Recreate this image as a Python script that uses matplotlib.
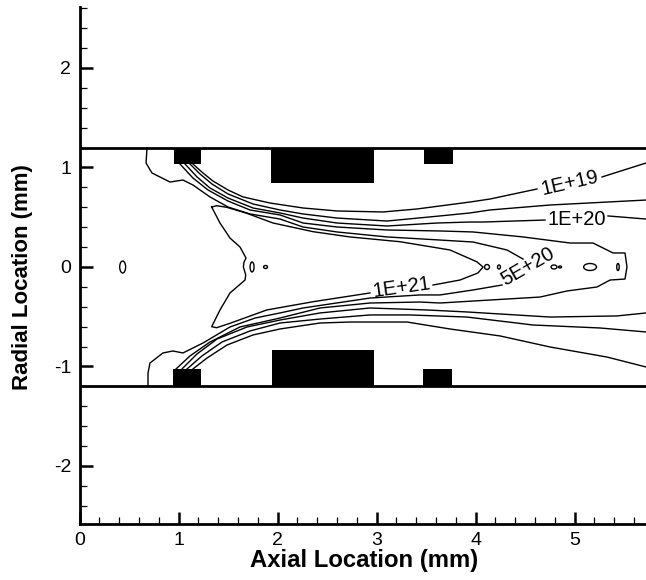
import numpy as np
import matplotlib
matplotlib.use('Agg')
import matplotlib.pyplot as plt
from matplotlib.patches import Ellipse, Rectangle
from matplotlib.ticker import MultipleLocator

nan = np.nan

# contour lines, nan = gap where a label sits
x_1e19 = [1.146, 1.247, 1.348, 1.5, 1.652, 1.924, 2.258, 2.601, 3.066, 3.409, 3.944, 4.146, 4.621, nan, 5.278, 5.722]
y_1e19 = [1.035, 0.945, 0.864, 0.774, 0.704, 0.643, 0.593, 0.563, 0.553, 0.583, 0.653, 0.683, 0.784, nan, 0.905, 1.045]

x_upper2 = [1.116, 1.217, 1.338, 1.5, 1.753, 2.025, 2.258, 2.601, 3.106, 3.641, 3.944, 4.146, 4.753, 5.722]
y_upper2 = [1.035, 0.935, 0.834, 0.734, 0.633, 0.573, 0.533, 0.492, 0.462, 0.513, 0.543, 0.573, 0.623, 0.673]

x_1e20 = [1.066, 1.187, 1.318, 1.5, 1.753, 2.025, 2.258, 2.601, 3.106, 3.611, 3.944, 4.076, 4.702, nan, 5.338, 5.722]
y_1e20 = [1.035, 0.905, 0.794, 0.693, 0.593, 0.543, 0.492, 0.442, 0.412, 0.442, 0.452, 0.452, 0.472, nan, 0.513, 0.482]

x_blob = [1.015, 1.146, 1.298, 1.5, 1.722, 2.025, 2.258, 2.601, 3.106, 3.641, 3.975, 4.480, 4.955, 5.187, 5.389,
          5.510, 5.530, 5.510, 5.359, 5.227, 4.924, 4.652, 4.146, 3.641, 3.439, 2.934, 2.429, 2.025, 1.621,
          1.318, 1.116, 0.975]
y_blob = [1.035, 0.894, 0.774, 0.663, 0.573, 0.523, 0.442, 0.402, 0.372, 0.362, 0.352, 0.302, 0.241, 0.241, 0.141,
          0.141, 0.0, -0.121, -0.131, -0.201, -0.241, -0.302, -0.332, -0.362, -0.352, -0.362, -0.412, -0.513,
          -0.603, -0.754, -0.894, -1.025]

x_5e20 = [0.682, 0.672, 0.732, 0.914, 1.045, 1.146, 1.318, 1.5, 1.722, 2.025, 2.258, 2.601, 3.106, 3.641, 3.975,
          4.318, 4.480, nan, 4.268, 3.975, 3.641, 3.439, 2.934, 2.258, 2.025, 1.773, 1.520, 1.247, 1.045,
          0.944, 0.843, 0.712, 0.692, 0.692]
y_5e20 = [1.196, 1.045, 0.945, 0.854, 0.874, 0.824, 0.704, 0.603, 0.533, 0.482, 0.402, 0.352, 0.302, 0.271, 0.251,
          0.171, 0.080, nan, -0.181, -0.231, -0.281, -0.281, -0.312, -0.412, -0.462, -0.513, -0.603, -0.764,
          -0.864, -0.844, -0.864, -0.965, -1.065, -1.196]

x_1e21 = [1.335, 1.386, 1.487, 1.689, 1.955, 2.359, 2.732, 3.237, 3.742, 4.012, 4.076, 4.025, 3.843, 3.571, nan,
          2.934, 2.359, 1.891, 1.520, 1.386, 1.335, 1.419, 1.520, 1.672, 1.679, 1.655, 1.662, 1.682, 1.621,
          1.520, 1.419, 1.335]
y_1e21 = [0.603, 0.616, 0.600, 0.540, 0.442, 0.355, 0.302, 0.254, 0.171, 0.053, 0.0, -0.060, -0.131, -0.181, nan,
          -0.261, -0.349, -0.432, -0.566, -0.610, -0.600, -0.432, -0.261, -0.131, -0.080, 0.0, 0.050, 0.090,
          0.201, 0.291, 0.442, 0.603]

x_lower_d = [1.035, 1.187, 1.389, 1.692, 2.025, 2.429, 2.934, 3.510, 3.914, 4.753, 5.429, 5.722]
y_lower_d = [-1.025, -0.874, -0.724, -0.603, -0.533, -0.462, -0.412, -0.432, -0.452, -0.503, -0.492, -0.462]

x_lower_e = [1.086, 1.237, 1.439, 1.722, 2.025, 2.429, 2.934, 3.338, 3.914, 4.581, 5.258, 5.722]
y_lower_e = [-1.025, -0.894, -0.754, -0.643, -0.563, -0.523, -0.482, -0.482, -0.503, -0.583, -0.613, -0.653]

x_lower_f = [1.146, 1.288, 1.490, 1.753, 2.025, 2.429, 2.732, 3.308, 3.742, 4.248, 4.753, 5.328, 5.722]
y_lower_f = [-1.025, -0.915, -0.784, -0.683, -0.623, -0.563, -0.553, -0.553, -0.623, -0.693, -0.804, -0.905, -1.005]

contours = [(x_1e19, y_1e19), (x_upper2, y_upper2), (x_1e20, y_1e20), (x_blob, y_blob),
            (x_5e20, y_5e20), (x_1e21, y_1e21), (x_lower_d, y_lower_d), (x_lower_e, y_lower_e),
            (x_lower_f, y_lower_f)]

# small closed contours on the axis
island_x = [0.436, 1.743, 1.879, 4.116, 4.237, 4.793, 4.854, 5.157, 5.439]
island_w = [0.06, 0.04, 0.04, 0.05, 0.03, 0.06, 0.03, 0.13, 0.025]
island_h = [0.12, 0.10, 0.03, 0.05, 0.04, 0.04, 0.02, 0.07, 0.07]

# solid blocks along the walls
block_x0 = [0.95, 1.93, 3.48, 0.94, 1.94, 3.47]
block_x1 = [1.23, 2.97, 3.77, 1.23, 2.97, 3.76]
block_y0 = [1.04, 0.84, 1.04, -1.03, -0.83, -1.03]
block_y1 = [1.2, 1.2, 1.2, -1.2, -1.2, -1.2]

wall_y = [1.2, -1.2]

labels = ['1E+19', '1E+20', '5E+20', '1E+21']
label_x = [4.95, 5.02, 4.53, 3.25]
label_y = [0.84, 0.48, 0.0, -0.21]
label_rot = [13, 0, 30, 8]

plt.rcParams['font.family'] = ['Liberation Sans', 'DejaVu Sans']
plt.rcParams['axes.unicode_minus'] = False

fig = plt.figure(figsize=(6.46, 5.80), dpi=100)
ax = fig.add_axes([79.5 / 646, 56 / 580, 566.5 / 646, 517 / 580])

for cx, cy in contours:
    ax.plot(cx, cy, color='black', lw=1.0, solid_joinstyle='round')

for x, w, h in zip(island_x, island_w, island_h):
    ax.add_patch(Ellipse((x, 0), w, h, fill=False, edgecolor='black', lw=1.0))

for x0, x1, y0, y1 in zip(block_x0, block_x1, block_y0, block_y1):
    ax.add_patch(Rectangle((x0, y0), x1 - x0, y1 - y0, facecolor='black', edgecolor='none', zorder=3))

for y in wall_y:
    ax.axhline(y, color='black', lw=2.0, zorder=3)

for t, x, y, r in zip(labels, label_x, label_y, label_rot):
    ax.text(x, y, t, fontsize=14.5, rotation=r, ha='center', va='center', rotation_mode='anchor')

ax.set_xlim(0, 5.722)
ax.set_ylim(-2.583, 2.613)
ax.spines['top'].set_visible(False)
ax.spines['right'].set_visible(False)
ax.spines['left'].set_linewidth(2.0)
ax.spines['bottom'].set_linewidth(2.0)

ax.xaxis.set_major_locator(MultipleLocator(1))
ax.xaxis.set_minor_locator(MultipleLocator(0.2))
ax.yaxis.set_major_locator(MultipleLocator(1))
ax.yaxis.set_minor_locator(MultipleLocator(0.2))
ax.tick_params(which='major', direction='in', length=9, width=1.8, labelsize=14, pad=6)
ax.tick_params(which='minor', direction='in', length=5, width=0.9)

fig.text(364 / 646, 1 - 560 / 580, 'Axial Location (mm)', fontsize=17.2, fontweight='bold', ha='center', va='center')
fig.text(23 / 646, 1 - 277 / 580, 'Radial Location (mm)', fontsize=16, fontweight='bold', ha='center', va='center',
         rotation=90)

fig.savefig('out.png', dpi=100)
